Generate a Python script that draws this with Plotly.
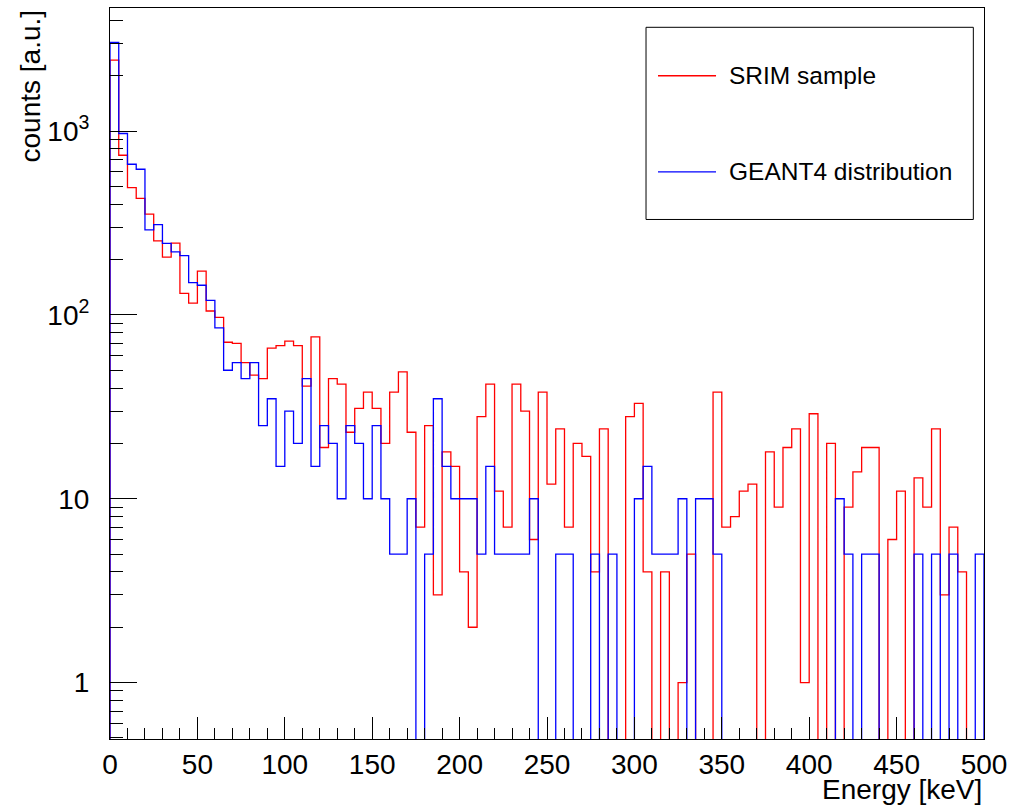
import numpy as np
import plotly.graph_objects as go

# ---- data ----
E_MIN, E_MAX, N_BINS = 0, 500, 100

srim_counts = [2432, 739, 493, 430, 353, 253, 206, 246, 131, 116,
               173, 105, 97, 71, 70, 55, 47, 45, 66, 68,
               72, 68, 41, 76, 19, 45, 42, 23, 31, 38,
               31, 20, 38, 49, 23, 7, 25, 3, 18, 15,
               4, 2, 28, 42, 11, 7, 42, 30, 6, 38,
               12, 24, 7, 20, 17, 4, 24, 0, 0, 28,
               33, 4, 0, 4, 0, 1, 5, 0, 0, 38,
               7, 8, 11, 12, 0, 18, 9, 19, 24, 1,
               29, 0, 20, 0, 9, 14, 19, 19, 0, 6,
               11, 0, 13, 9, 24, 3, 7, 4, 0, 0]

geant4_counts = [3035, 970, 660, 620, 290, 310, 245, 220, 210, 150,
                 145, 120, 85, 50, 55, 45, 55, 25, 35, 15,
                 30, 20, 45, 15, 25, 20, 10, 25, 20, 10,
                 25, 10, 5, 5, 10, 0, 5, 35, 15, 10,
                 10, 10, 5, 15, 5, 5, 5, 5, 10, 0,
                 0, 5, 5, 0, 0, 5, 0, 5, 0, 0,
                 10, 15, 5, 5, 5, 10, 0, 10, 10, 5,
                 0, 0, 0, 0, 0, 0, 0, 0, 0, 0,
                 0, 0, 0, 10, 5, 0, 5, 5, 0, 0,
                 0, 0, 5, 0, 5, 0, 5, 0, 0, 5]

series_names = ["SRIM sample", "GEANT4 distribution"]
series_colors = ["#ff0000", "#0000ff"]

y_tick_vals = [1, 10, 100, 1000]
y_tick_text = ["1", "10", "10<sup>2</sup>", "10<sup>3</sup>"]

# ---- helpers ----
edges = np.linspace(E_MIN, E_MAX, N_BINS + 1)
FLOOR = 1e-3  # empty bins drop below the visible log range


def step_xy(vals):
    v = [c if c > 0 else FLOOR for c in vals]
    x = [edges[0]] + list(edges) + [edges[-1]]
    y = [FLOOR] + v + [v[-1]] + [FLOOR]
    return x, y


fig = go.Figure()
for vals, name, col in zip([srim_counts, geant4_counts], series_names, series_colors):
    x, y = step_xy(vals)
    fig.add_trace(go.Scatter(x=x, y=y, mode="lines", name=name,
                             line=dict(color=col, width=1.3, shape="hv"),
                             showlegend=False, hoverinfo="skip"))

FONT = "Liberation Sans, Arial, Helvetica, sans-serif"

fig.update_layout(
    width=1015, height=805,
    margin=dict(l=110, r=31, t=8, b=66),
    paper_bgcolor="white", plot_bgcolor="white",
    font=dict(family=FONT, size=28, color="black"),
    showlegend=False,
)

fig.update_xaxes(
    range=[E_MIN, E_MAX], showgrid=False, zeroline=False,
    showline=True, linecolor="black", linewidth=1, mirror=True,
    ticks="inside", ticklen=22, tickcolor="black", tickwidth=1,
    tick0=0, dtick=50,
    minor=dict(ticks="inside", ticklen=11, dtick=10, tickcolor="black", showgrid=False),
    tickfont=dict(family=FONT, size=28),
)
fig.update_yaxes(
    type="log", range=[-0.307, 3.6696], showgrid=False, zeroline=False,
    showline=True, linecolor="black", linewidth=1, mirror=True,
    ticks="inside", ticklen=27, tickcolor="black", tickwidth=1,
    tickvals=y_tick_vals, ticktext=y_tick_text,
    minor=dict(ticks="inside", ticklen=13, dtick="D1", tickcolor="black", showgrid=False),
    tickfont=dict(family=FONT, size=28),
    ticklabelstandoff=14,
)

# axis titles (ROOT style: right / top aligned)
fig.add_annotation(text="Energy [keV]", xref="paper", yref="paper", x=1, y=0,
                   xanchor="right", yanchor="middle", yshift=-50, showarrow=False,
                   font=dict(family=FONT, size=28))
fig.add_annotation(text="counts [a.u.]", xref="paper", yref="paper", x=0, y=1,
                   xanchor="center", yanchor="top", xshift=-80, textangle=-90,
                   showarrow=False, font=dict(family=FONT, size=28))

# legend box (ROOT TLegend look)
fig.add_shape(type="rect", xref="paper", yref="paper", x0=0.6133, x1=0.9878,
              y0=0.7107, y1=0.9736, line=dict(color="black", width=1),
              fillcolor="white", layer="above")
for name, col, yl in zip(series_names, series_colors, [0.9073, 0.7759]):
    fig.add_shape(type="line", xref="paper", yref="paper", x0=0.627, x1=0.6934,
                  y0=yl, y1=yl, line=dict(color=col, width=1.3), layer="above")
    fig.add_annotation(text=name, xref="paper", yref="paper", x=0.706, y=yl,
                       xanchor="left", yanchor="middle", showarrow=False,
                       font=dict(family=FONT, size=24.5))

fig.write_html("out.html")
